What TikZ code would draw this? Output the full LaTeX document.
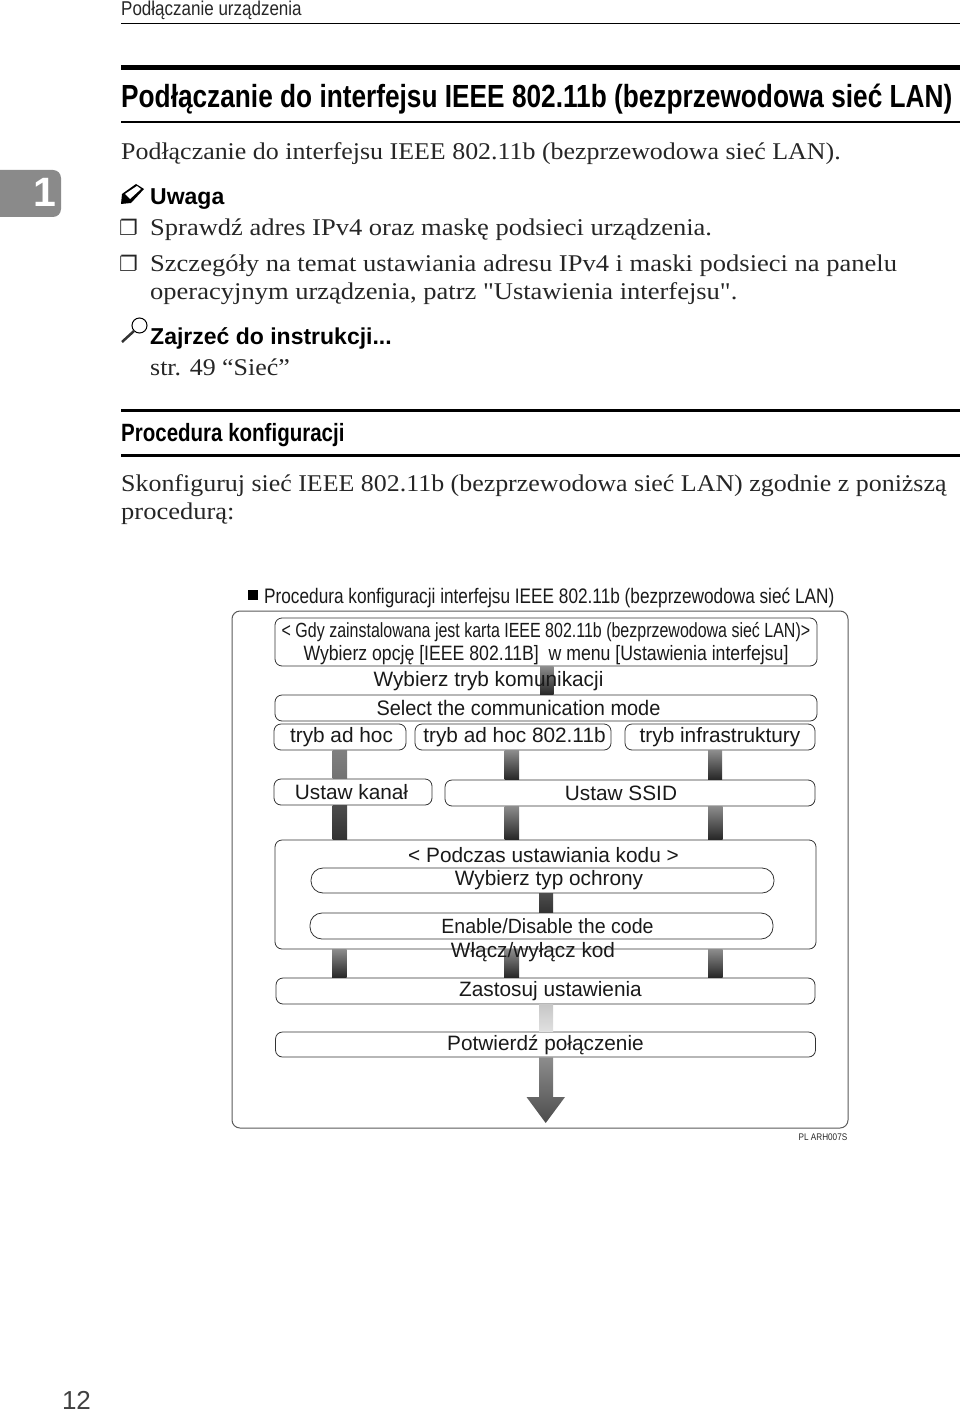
\documentclass[tikz,border=0pt]{standalone}
\usepackage{fontspec}
\setmainfont{Liberation Serif}
\newfontfamily\bodyfont[FakeStretch=1.08]{Liberation Serif}
\newfontfamily\notefont[FakeStretch=1.105]{Liberation Serif}
\newfontfamily\headfont[FakeStretch=0.82]{Liberation Sans}
\newfontfamily\cardfont[FakeStretch=0.78]{Liberation Sans}
\newfontfamily\plainfont{Liberation Sans}
\newfontfamily\slimfont[FakeStretch=0.95]{Liberation Sans}
\newfontfamily\narrowfont[FakeStretch=0.85]{Liberation Sans}
\newfontfamily\symfont{DejaVu Sans}
\usetikzlibrary{positioning,calc}
\definecolor{tabgray}{HTML}{8A8A8A}
\definecolor{boxline}{HTML}{333333}
\tikzset{
  bodytext/.style={anchor=base west, inner sep=0pt, font=\bodyfont\fontsize{24}{24}\selectfont, text=black!85},
  notetext/.style={bodytext, font=\notefont\fontsize{24}{24}\selectfont},
  ticktext/.style={bodytext, font=\symfont\fontsize{21}{21}\selectfont},
  boxedtext/.style={draw=boxline, line width=0.8pt, rounded corners=7pt, inner sep=0pt, align=center, font=\plainfont\fontsize{20.8}{23}\selectfont, text=black!90},
  softbox/.style={boxedtext, rounded corners=12pt},
  freetext/.style={inner sep=0pt, font=\plainfont\fontsize{20.8}{23}\selectfont, text=black!90},
  darkbar/.style={top color=black!45, bottom color=black!85},
  graybar/.style={top color=black!50, bottom color=black!55},
  heavybar/.style={top color=black!70, bottom color=black!80},
  lightbar/.style={top color=black!22, bottom color=black!12},
  rulerline/.style={black, line width=#1},
}
\begin{document}
\begin{tikzpicture}[x=1pt, y=-1pt]
  \useasboundingbox (0,0) rectangle (960,1412);

  % page head
  \node[bodytext, font=\narrowfont\fontsize{20}{20}\selectfont] (runhead) at (121, 16) {Podłączanie urządzenia};
  \draw [rulerline=0.8pt] (121, 23) -- (960, 23);
  \draw [rulerline=5pt] (121, 68) -- (960, 68);
  \node[bodytext, font=\headfont\bfseries\fontsize{32}{32}\selectfont, text=black] (title) at (121, 108) {Podłączanie do interfejsu IEEE 802.11b (bezprzewodowa sieć LAN)};
  \draw [rulerline=1.5pt] (121, 122) -- (960, 122);
  \node[bodytext] (intro) at (121, 160) {Podłączanie do interfejsu IEEE 802.11b (bezprzewodowa sieć LAN).};

  % chapter tab
  \fill [tabgray, rounded corners=8pt] (0, 170) -- (61, 170) -- (61, 217) -- (0, 217) [sharp corners] -- cycle;
  \fill [tabgray] (0, 170) rectangle (10, 217);
  \node[inner sep=0pt, text=white, font=\plainfont\bfseries\fontsize{41}{41}\selectfont] (tabnum) at (44.5, 192) {1};

  % note
  \fill [black] (121, 204) -- (122, 194) -- (136, 184) -- (144, 189) -- (131, 203) -- cycle;
  \fill [white] (125, 194) -- (137, 186) -- (141, 189) -- (130, 199) -- cycle;
  \node[bodytext, font=\plainfont\bfseries\fontsize{23}{23}\selectfont, text=black] (note) at (150, 205) {Uwaga};
  \node[ticktext] (tick1) at (119, 236) {❐};
  \node[notetext] (note1) at (150, 236) {Sprawdź adres IPv4 oraz maskę podsieci urządzenia.};
  \node[ticktext] (tick2) at (119, 272) {❐};
  \node[notetext] (note2) at (150, 272) {Szczegóły na temat ustawiania adresu IPv4 i maski podsieci na panelu};
  \node[notetext] (note3) at (150, 300) {operacyjnym urządzenia, patrz "Ustawienia interfejsu".};

  % reference
  \draw [line width=1pt] (139.5, 325.5) circle [radius=7.5];
  \draw [line width=2.5pt, black!80] (134, 331) -- (122, 342);
  \node[bodytext, font=\plainfont\bfseries\fontsize{23}{23}\selectfont, text=black] (lookup) at (150, 344) {Zajrzeć do instrukcji...};
  \node[bodytext] (lookup1) at (150, 375) {str. 49 “Sieć”};

  % section
  \draw [rulerline=3pt] (121, 410) -- (960, 410);
  \node[bodytext, font=\headfont\bfseries\fontsize{25}{25}\selectfont, text=black] (section) at (121, 441) {Procedura konfiguracji};
  \draw [rulerline=3pt] (121, 455) -- (960, 455);
  \node[bodytext] (para1) at (121, 491) {Skonfiguruj sieć IEEE 802.11b (bezprzewodowa sieć LAN) zgodnie z poniższą};
  \node[notetext] (para2) at (121, 519) {procedurą:};

  % figure caption
  \node[fill=black, inner sep=0pt, minimum size=10pt] (square) at (253, 595) {};
  \node[anchor=west, inner sep=0pt, font=\headfont\fontsize{21}{21}\selectfont, text=black!90] (figtitle) at (264, 598) {Procedura konfiguracji interfejsu IEEE 802.11b (bezprzewodowa sieć LAN)};

  % frame
  \node[draw=black!65, line width=1pt, rounded corners=8pt, inner sep=0pt, minimum width=616pt, minimum height=517pt] (frame) at (540, 869.5) {};

  % boxes
  \node[boxedtext, minimum width=542pt, minimum height=48pt] (card) at (546, 642) {\rule{0pt}{18pt}{\cardfont\fontsize{20.5}{23}\selectfont < Gdy zainstalowana jest karta IEEE 802.11b (bezprzewodowa sieć LAN)>}\\{\narrowfont\fontsize{20.8}{23}\selectfont Wybierz opcję [IEEE 802.11B]\ \ w menu [Ustawienia interfejsu]}};
  \node[boxedtext, minimum width=542pt, minimum height=26pt, font=\slimfont\fontsize{21}{23}\selectfont] (select) at (546, 708) {\hspace*{-55pt}Select the communication mode};
  \node[boxedtext, minimum width=132pt, minimum height=26pt] (adhoc) at (340, 737) {\hspace*{3pt}tryb ad hoc};
  \node[boxedtext, minimum width=196pt, minimum height=26pt] (adhocb) at (513, 737) {\hspace*{3pt}tryb ad hoc 802.11b};
  \node[boxedtext, minimum width=190pt, minimum height=26pt] (infra) at (720, 737) {tryb infrastruktury};
  \node[boxedtext, minimum width=158pt, minimum height=26pt] (channel) at (353, 792) {\hspace*{-3pt}Ustaw kanał};
  \node[boxedtext, minimum width=370pt, minimum height=26pt] (ssid) at (630, 793) {\hspace*{-18pt}\raisebox{-1pt}{Ustaw SSID}};
  \node[boxedtext, minimum width=541pt, minimum height=109pt] (code) at (545.5, 894.5) {};
  \node[softbox, minimum width=463pt, minimum height=25pt] (codetype) at (542.5, 880.5) {\hspace*{13pt}\raisebox{-2pt}{Wybierz typ ochrony}};
  \node[softbox, minimum width=463pt, minimum height=26pt, font=\slimfont\fontsize{20.6}{23}\selectfont] (codeswitch) at (541.5, 926) {\hspace*{12pt}Enable/Disable the code};
  \node[boxedtext, minimum width=539pt, minimum height=26pt] (apply) at (545.5, 991) {\hspace*{10pt}\raisebox{-2pt}{Zastosuj ustawienia}};
  \node[boxedtext, minimum width=540pt, minimum height=25pt] (confirm) at (545.5, 1044.5) {Potwierdź połączenie};
  \coordinate (arrowend) at (545.7, 1123);

  % bars
  \shade [darkbar] (540, 0 |- card.south) rectangle (553.5, 0 |- select.north);
  \shade [graybar] (332.5, 0 |- adhoc.south) rectangle (347, 0 |- channel.north);
  \shade [darkbar] (504.5, 0 |- adhocb.south) rectangle (519, 0 |- ssid.north);
  \shade [darkbar] (708, 0 |- infra.south) rectangle (722, 0 |- ssid.north);
  \shade [heavybar] (332.5, 0 |- channel.south) rectangle (347, 0 |- code.north);
  \shade [darkbar] (504.5, 0 |- ssid.south) rectangle (519, 0 |- code.north);
  \shade [darkbar] (708, 0 |- ssid.south) rectangle (722.5, 0 |- code.north);
  \shade [heavybar] (539, 0 |- codetype.south) rectangle (553, 0 |- codeswitch.north);
  \shade [darkbar] (332, 0 |- code.south) rectangle (346.5, 0 |- apply.north);
  \shade [darkbar] (504, 0 |- code.south) rectangle (519, 0 |- apply.north);
  \shade [darkbar] (708, 0 |- code.south) rectangle (722.5, 0 |- apply.north);
  \shade [lightbar] (539, 0 |- apply.south) rectangle (553, 0 |- confirm.north);
  \shade [top color=black!45, bottom color=black!70] (539, 0 |- confirm.south) -- (553, 0 |- confirm.south) -- (553, 1097) -- (565, 1097) -- (arrowend) -- (526.5, 1097) -- (539, 1097) -- cycle;

  % texts over the bars
  \node[freetext] (modehead) at (488.5, 681) {Wybierz tryb komunikacji};
  \node[freetext] (codehead) at (543.5, 855) {< Podczas ustawiania kodu >};
  \node[freetext] (codeswitchpl) at (533, 952) {Włącz/wyłącz kod};
  \node[inner sep=0pt, font=\narrowfont\fontsize{9.6}{9.6}\selectfont, text=black!85] (figcode) at (823, 1137) {PL ARH007S};

  % page number
  \node[inner sep=0pt, font=\plainfont\fontsize{26}{26}\selectfont, text=black!75] (pagenum) at (76.5, 1400) {12};
\end{tikzpicture}
\end{document}
